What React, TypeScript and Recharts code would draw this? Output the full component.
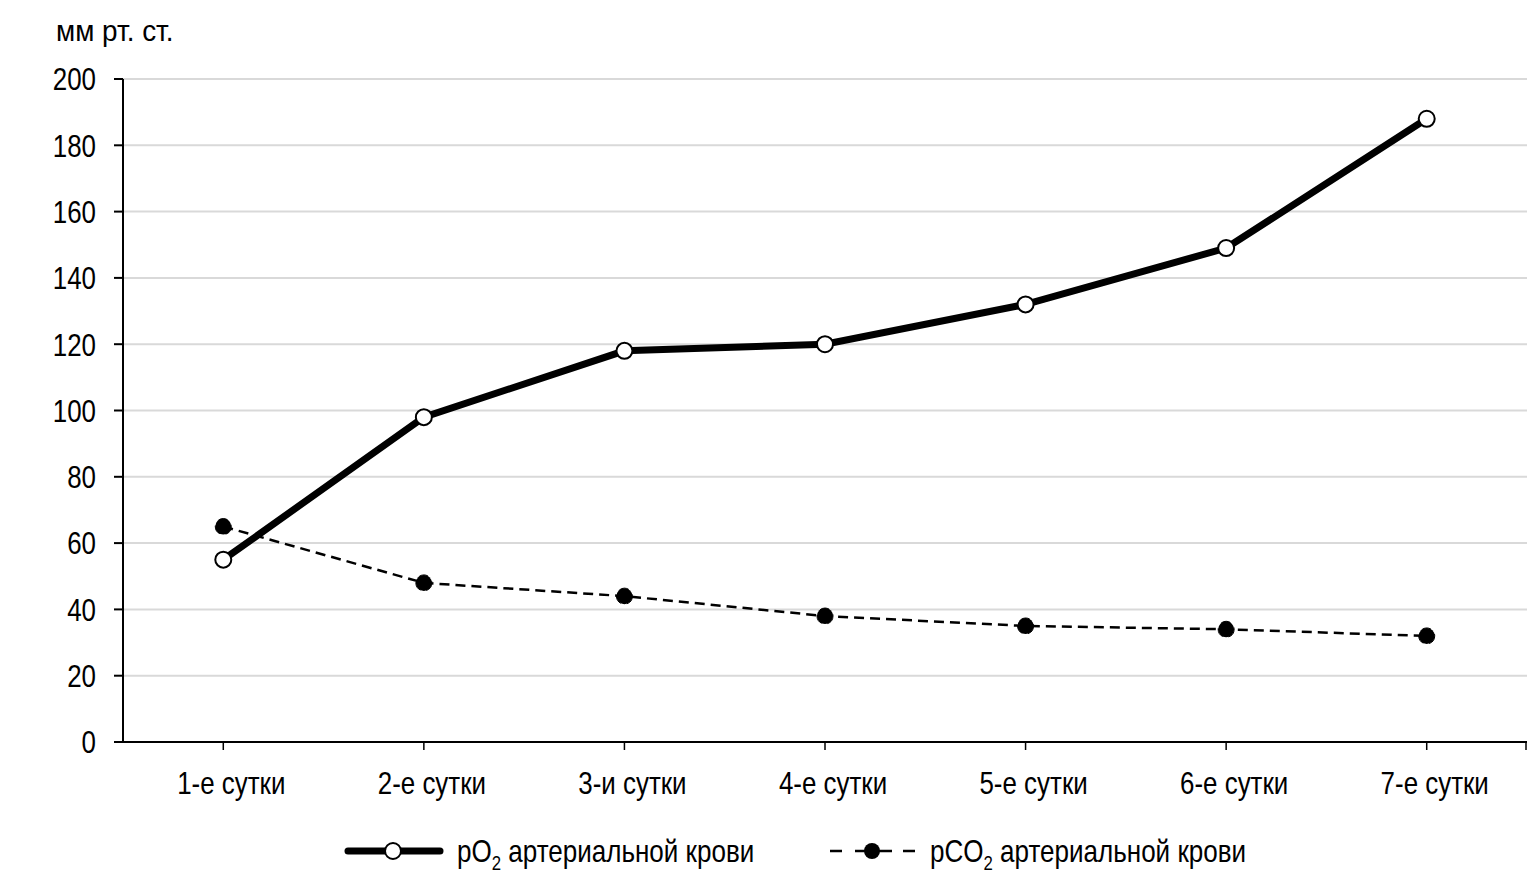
import React from 'react';
import { LineChart, Line, XAxis, YAxis, CartesianGrid } from 'recharts';

const days = ['1-е сутки', '2-е сутки', '3-и сутки', '4-е сутки', '5-е сутки', '6-е сутки', '7-е сутки'];
const po2 = [55, 98, 118, 120, 132, 149, 188];
const pco2 = [65, 48, 44, 38, 35, 34, 32];
const yTicks = [0, 20, 40, 60, 80, 100, 120, 140, 160, 180, 200];

const data = days.map((day, i) => ({ day, po2: po2[i], pco2: pco2[i] }));

const FONT = '"Liberation Sans", Arial, sans-serif';
const NARROW = 0.81;

// no narrow font installed, so squeeze the text horizontally
const XTick = (props: any) => {
  const { x, y, payload } = props;
  return (
    <g transform={`translate(${x + 8},${y})`}>
      <text transform={`scale(${NARROW},1)`} textAnchor="middle" dy="0.71em" fontSize={32} fontFamily={FONT} fill="#000">
        {payload.value}
      </text>
    </g>
  );
};

const YTick = (props: any) => {
  const { x, y, payload } = props;
  return (
    <g transform={`translate(${x},${y})`}>
      <text transform={`scale(${NARROW},1)`} textAnchor="end" dy="0.355em" fontSize={32} fontFamily={FONT} fill="#000">
        {payload.value}
      </text>
    </g>
  );
};

const App: React.FC = () => {
  return (
    <div style={{ position: 'absolute', left: 0, top: 0, width: 1533, height: 884, background: '#fff', fontFamily: FONT }}>
      <LineChart width={1533} height={884} data={data} margin={{ top: 79, right: 6, left: 3, bottom: 82 }}>
        <CartesianGrid vertical={false} stroke="#d9d9d9" strokeWidth={2} />
        <XAxis
          dataKey="day"
          scale="band"
          axisLine={{ stroke: '#000', strokeWidth: 2 }}
          tickLine={{ stroke: '#000', strokeWidth: 1.5 }}
          tickSize={8}
          tickMargin={21}
          height={60}
          interval={0}
          tick={<XTick />}
        />
        <YAxis
          domain={[0, 200]}
          ticks={yTicks}
          interval={0}
          width={120}
          axisLine={{ stroke: '#000', strokeWidth: 2 }}
          tickLine={{ stroke: '#000', strokeWidth: 2 }}
          tickSize={9}
          tickMargin={18}
          tick={<YTick />}
        />
        <Line
          dataKey="pco2"
          type="linear"
          stroke="#000"
          strokeWidth={2.5}
          strokeDasharray="10 6"
          dot={{ r: 8, fill: '#000', stroke: '#000', strokeWidth: 1 }}
          isAnimationActive={false}
        />
        <Line
          dataKey="po2"
          type="linear"
          stroke="#000"
          strokeWidth={7}
          dot={{ r: 8, fill: '#fff', stroke: '#000', strokeWidth: 2 }}
          isAnimationActive={false}
        />
      </LineChart>
      <svg width={1533} height={884} style={{ position: 'absolute', left: 0, top: 0, pointerEvents: 'none' }}>
        <g transform="translate(56,41)">
          <text transform="scale(0.93,1)" fontSize={30} fontFamily={FONT} fill="#000">мм рт. ст.</text>
        </g>
        <line x1={1526} y1={742} x2={1526} y2={750} stroke="#000" strokeWidth={1.5} />
        <line x1={348} y1={851} x2={440} y2={851} stroke="#000" strokeWidth={7} strokeLinecap="round" />
        <circle cx={393} cy={851} r={8} fill="#fff" stroke="#000" strokeWidth={2} />
        <g transform="translate(457,862)">
          <text transform="scale(0.84,1)" fontSize={31} fontFamily={FONT} fill="#000">
            pO<tspan fontSize={20} dy={8}>2</tspan><tspan dy={-8}> артериальной крови</tspan>
          </text>
        </g>
        <line x1={830} y1={851} x2={915} y2={851} stroke="#000" strokeWidth={2.5} strokeDasharray="12 13 37 11 12" />
        <circle cx={872} cy={851} r={8} fill="#000" />
        <g transform="translate(930,862)">
          <text transform="scale(0.84,1)" fontSize={31} fontFamily={FONT} fill="#000">
            pCO<tspan fontSize={20} dy={8}>2</tspan><tspan dy={-8}> артериальной крови</tspan>
          </text>
        </g>
      </svg>
    </div>
  );
};

export default App;
